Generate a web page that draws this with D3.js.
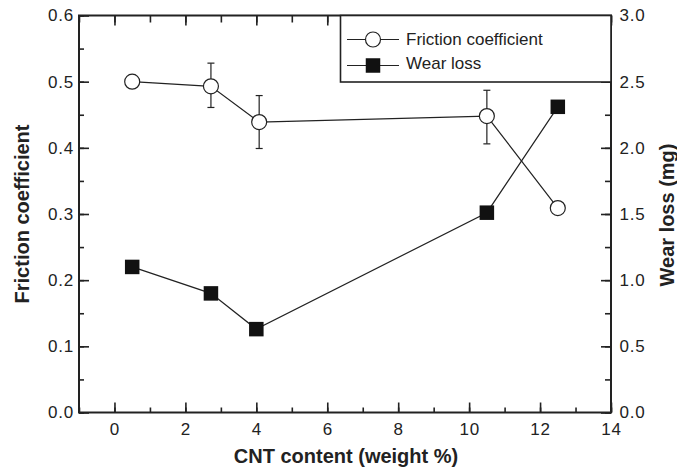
<!DOCTYPE html>
<html><head><meta charset="utf-8">
<script src="https://cdn.jsdelivr.net/npm/d3@7"></script>
<style>body{margin:0;background:#fff}svg{display:block}text{font-family:"Liberation Sans",Arial,sans-serif;fill:#222}</style>
</head><body><svg id="c" width="677" height="470"></svg>
<script>
const cntContent = [0.5, 2.72, 4.08, 10.5, 12.5];
const wearContent = [0.5, 2.72, 4.0, 10.5, 12.5];
const frictionCoef = [0.5, 0.493, 0.439, 0.448, 0.309];
const frictionErrLow = [null, 0.461, 0.399, 0.406, null];
const frictionErrHigh = [null, 0.528, 0.479, 0.487, null];
const wearLoss = [1.10, 0.90, 0.63, 1.51, 2.31];
const xTicks = [0, 2, 4, 6, 8, 10, 12, 14];
const yLeftTicks = [0.0, 0.1, 0.2, 0.3, 0.4, 0.5, 0.6];
const yRightTicks = [0.0, 0.5, 1.0, 1.5, 2.0, 2.5, 3.0];
const seriesNames = ["Friction coefficient", "Wear loss"];

const svg = d3.select("#c");
const L = 79, R = 611, T = 15.5, B = 412.5;
const x = d3.scaleLinear().domain([-1, 14]).range([L, R]);
const yL = d3.scaleLinear().domain([0, 0.6]).range([B, T]);
const yR = d3.scaleLinear().domain([0, 3]).range([B, T]);
const ink = "#222";

function styleAxis(g){
  g.select(".domain").remove();
  g.selectAll("line").attr("stroke", ink).attr("stroke-width", 1.6);
  g.selectAll("text").style("font-size", "17px").style("letter-spacing", "0.8px").attr("fill", ink);
}
const xMinor = d3.range(-1, 14.01, 1);
svg.append("g").attr("transform", `translate(0,${B})`)
  .call(d3.axisBottom(x).tickValues(xMinor).tickSize(-5).tickFormat(""))
  .call(styleAxis);
svg.append("g").attr("transform", `translate(0,${B})`)
  .call(d3.axisBottom(x).tickValues(xTicks).tickSize(-10).tickPadding(10).tickFormat(d3.format("d")))
  .call(styleAxis);
svg.append("g").attr("transform", `translate(0,${T})`)
  .call(d3.axisTop(x).tickValues(xMinor).tickSize(-7).tickFormat(""))
  .call(styleAxis);
svg.append("g").attr("transform", `translate(0,${T})`)
  .call(d3.axisTop(x).tickValues(xTicks).tickSize(-10).tickFormat(""))
  .call(styleAxis);

const yMinor = d3.range(0, 0.601, 0.05);
svg.append("g").attr("transform", `translate(${L},0)`)
  .call(d3.axisLeft(yL).tickValues(yMinor).tickSize(-5).tickFormat(""))
  .call(styleAxis);
svg.append("g").attr("transform", `translate(${L},0)`)
  .call(d3.axisLeft(yL).tickValues(yLeftTicks).tickSize(-10).tickPadding(5).tickFormat(d3.format(".1f")))
  .call(styleAxis);
const yRMinor = d3.range(0, 3.001, 0.25);
svg.append("g").attr("transform", `translate(${R},0)`)
  .call(d3.axisRight(yR).tickValues(yRMinor).tickSize(-6).tickFormat(""))
  .call(styleAxis);
svg.append("g").attr("transform", `translate(${R},0)`)
  .call(d3.axisRight(yR).tickValues(yRightTicks).tickSize(-10).tickPadding(8.5).tickFormat(d3.format(".1f")))
  .call(styleAxis);

svg.append("rect").attr("x", L).attr("y", T).attr("width", R - L).attr("height", B - T)
  .attr("fill", "none").attr("stroke", ink).attr("stroke-width", 2);

// titles
svg.append("text").attr("x", 346).attr("y", 463).attr("text-anchor", "middle")
  .style("font-size", "20px").style("font-weight", "bold").text("CNT content (weight %)");
svg.append("text").attr("transform", `translate(28.5,214) rotate(-90)`).attr("text-anchor", "middle")
  .style("font-size", "20px").style("font-weight", "bold").text("Friction coefficient");
svg.append("text").attr("transform", `translate(674,215) rotate(-90)`).attr("text-anchor", "middle")
  .style("font-size", "20px").style("font-weight", "bold").text("Wear loss (mg)");

// lines
const fr = cntContent.map((c, i) => ({x: c, y: frictionCoef[i], lo: frictionErrLow[i], hi: frictionErrHigh[i]}));
const wr = wearContent.map((c, i) => ({x: c, y: wearLoss[i]}));
svg.append("path").datum(fr).attr("fill", "none").attr("stroke", ink).attr("stroke-width", 1.2)
  .attr("d", d3.line().x(d => x(d.x)).y(d => yL(d.y)));
svg.append("path").datum(wr).attr("fill", "none").attr("stroke", ink).attr("stroke-width", 1.2)
  .attr("d", d3.line().x(d => x(d.x)).y(d => yR(d.y)));

// error bars
const eb = svg.append("g").attr("stroke", ink).attr("stroke-width", 1.2);
fr.filter(d => d.lo != null).forEach(d => {
  const cx = x(d.x);
  eb.append("line").attr("x1", cx).attr("x2", cx).attr("y1", yL(d.lo)).attr("y2", yL(d.hi));
  eb.append("line").attr("x1", cx - 3.5).attr("x2", cx + 3.5).attr("y1", yL(d.lo)).attr("y2", yL(d.lo));
  eb.append("line").attr("x1", cx - 3.5).attr("x2", cx + 3.5).attr("y1", yL(d.hi)).attr("y2", yL(d.hi));
});

// markers
svg.selectAll("circle.f").data(fr).join("circle").attr("class", "f")
  .attr("cx", d => x(d.x)).attr("cy", d => yL(d.y)).attr("r", 7.5)
  .attr("fill", "#fff").attr("stroke", ink).attr("stroke-width", 1.2);
const sq = 14.5;
svg.selectAll("rect.w").data(wr).join("rect").attr("class", "w")
  .attr("x", d => x(d.x) - sq / 2).attr("y", d => yR(d.y) - sq / 2)
  .attr("width", sq).attr("height", sq).attr("fill", "#111");

// legend
const lg = svg.append("g");
lg.append("rect").attr("x", 340.5).attr("y", T).attr("width", R - 340.5).attr("height", 82 - T)
  .attr("fill", "#fff").attr("stroke", ink).attr("stroke-width", 1.6);
[[39.5, 45], [65.5, 69]].forEach(([yy, tb], i) => {
  lg.append("line").attr("x1", 347).attr("x2", 399).attr("y1", yy).attr("y2", yy)
    .attr("stroke", ink).attr("stroke-width", 1.2);
  if (i === 0) lg.append("circle").attr("cx", 373).attr("cy", yy).attr("r", 7.5)
    .attr("fill", "#fff").attr("stroke", ink).attr("stroke-width", 1.2);
  else lg.append("rect").attr("x", 373 - sq / 2).attr("y", yy - sq / 2).attr("width", sq).attr("height", sq).attr("fill", "#111");
  lg.append("text").attr("x", 406).attr("y", tb).style("font-size", "17px").text(seriesNames[i]);
});
</script></body></html>
